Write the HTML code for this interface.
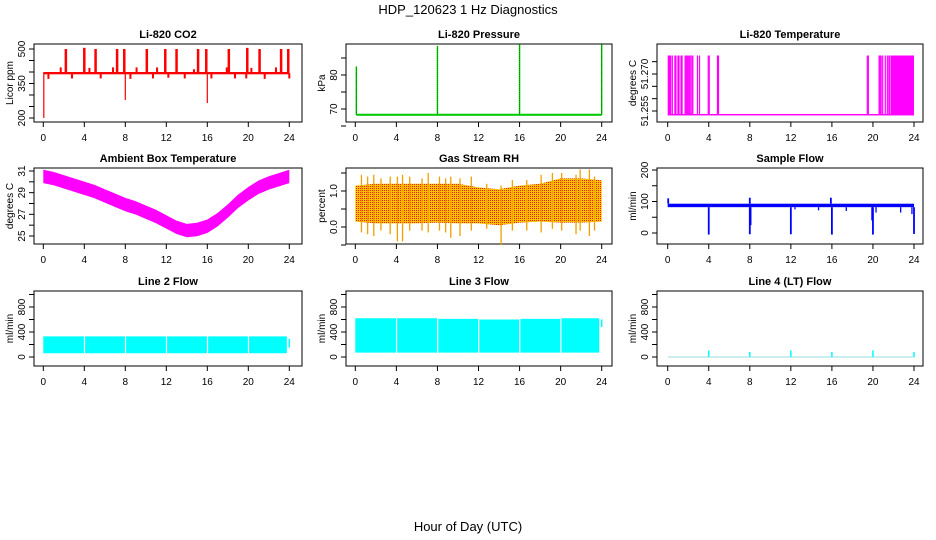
<!DOCTYPE html>
<html><head><meta charset="utf-8"><style>
body{margin:0;background:#fff;}
svg{display:block;font-family:"Liberation Sans",sans-serif;}
</style></head><body>
<svg id="c" width="936" height="540" viewBox="0 0 936 540">
<defs>
<pattern id="rhpat" width="2" height="2" patternUnits="userSpaceOnUse"><rect width="2" height="2" fill="#ffc000"/><rect width="1" height="1" fill="#e8201a"/></pattern>
</defs>
<text x="468" y="14" text-anchor="middle" font-size="13">HDP_120623  1 Hz Diagnostics</text>
<text x="468" y="531" text-anchor="middle" font-size="13">Hour of Day (UTC)</text>
</svg>
<script>
// ---- data ----
const hourTicks = [0,4,8,12,16,20,24];
const co2Base = 395;
const co2UpHours = [2.2,4,5.1,7.2,7.9,10.1,11.9,13,15.1,15.9,18.1,19.9,21.1,23.2,23.9];
const co2UpValues = [500,505,500,500,500,500,500,500,500,500,500,505,500,500,500];
const co2SmallHours = [1.7,4.5,6.8,9.1,11.1,14.7,17.9,20.3,22.7];
const co2SmallValues = [420,418,420,420,420,412,420,418,420];
const co2DipHours = [0.5,2.8,5.6,8.5,10.7,12.2,13.8,16.4,18.7,19.8,21.6,24];
const co2DipValues = [370,372,372,370,372,375,372,372,372,372,370,372];
const co2BigDipHours = [0.05,8,16];
const co2BigDipValues = [200,278,265];

const presBase = 68.3;
const presSpikeHours = [0.1,8,16,24];
const presSpikeValues = [82.5,88.5,89,89];

const liTempLow = 51.2535;
const liTempHigh = 51.2775;
const liTempLineHours = [0.45,0.7,0.8,1.0,1.1,1.3,1.4,1.7,1.8,1.9,2.0,2.1,2.2,2.35,2.45,2.9,3.1,3.95,4.05,4.85,4.95,19.45,19.55,20.6,20.7,20.8,20.95,21.2,21.4,21.55,21.65];
const liTempFilledRanges = [[0,0.35],[21.75,24]];

const ambHours = [0,1,2,3,4,5,6,7,8,9,10,11,12,13,14,15,16,17,18,19,20,21,22,23,24];
const ambValues = [30.5,30.3,30.0,29.7,29.4,29.1,28.7,28.3,27.9,27.6,27.2,26.8,26.3,25.8,25.5,25.6,25.9,26.5,27.3,28.2,28.9,29.5,29.9,30.2,30.5];
const ambHalfWidth = 0.62;

const rhHours = [0,2,4,6,8,10,12,14,16,18,20,22,24];
const rhLow = [0.15,0.1,0.1,0.1,0.12,0.1,0.1,0.05,0.12,0.15,0.12,0.12,0.15];
const rhHigh = [1.15,1.2,1.2,1.2,1.2,1.2,1.1,1.05,1.15,1.2,1.35,1.35,1.3];
const rhSpikeHours = [0.6,1.2,1.8,2.5,3.4,4.1,4.6,5.3,6.5,7.1,8.2,8.8,9.3,10.2,11.3,12.8,14.2,15.3,16.7,18.1,19.2,20.1,21.5,21.9,22.8,23.3];
const rhSpikeLow = [-0.15,-0.2,-0.25,-0.1,-0.2,-0.4,-0.4,-0.1,-0.1,-0.15,-0.1,-0.15,-0.3,-0.25,-0.1,-0.05,-0.5,-0.1,-0.1,-0.15,-0.05,-0.1,-0.2,-0.1,-0.25,-0.1];
const rhSpikeHigh = [1.45,1.4,1.45,1.35,1.4,1.4,1.45,1.4,1.35,1.5,1.4,1.35,1.4,1.35,1.4,1.2,1.15,1.3,1.3,1.45,1.5,1.5,1.45,1.6,1.6,1.4];

const sfLow = 82, sfHigh = 93;
const sfDipHours = [4,8,12,16,20,24];
const sfDipValues = [-5,-4,-4,-5,-5,-3];
const sfSmallDipHours = [8.1,12.4,14.7,17.4,19.9,20.3,22.7,23.8];
const sfSmallDipValues = [25,75,72,70,40,65,65,60];
const sfUpHours = [0.05,8,15.9];
const sfUpValues = [110,112,112];

const flowGapHours = [4,8,12,16,20];
const line2Low = 60, line2High = 330;
const line3Low = 70;
const line3HighHours = [0,4,8,12,16,20,24];
const line3High = [620,620,610,600,610,620,620];
const line4SpikeHours = [4,8,12,16,20,24];
const line4SpikeValues = [105,80,105,80,105,80];

// ---- rendering ----
const svg = document.getElementById('c');
const NS = 'http://www.w3.org/2000/svg';
function mk(tag, attrs){const e=document.createElementNS(NS,tag);for(const k in attrs)e.setAttribute(k,attrs[k]);svg.appendChild(e);return e;}

const cols = [{l:34,r:302,x0:43.3,x24:289.3},{l:346,r:612,x0:355.3,x24:601.7},{l:657,r:923,x0:667.7,x24:914}];
const rows = [{t:44,b:122},{t:168,b:244},{t:291,b:366}];

function panel(ci, ri, title, ylab, v1, y1, v2, y2, ticks, labels, name){
  const c=cols[ci], r=rows[ri];
  const P={xs:h=>c.x0+h*(c.x24-c.x0)/24, ys:v=>y1+(v-v1)*(y2-y1)/(v2-v1), c, r, name};
  const t=mk('text',{x:(c.l+c.r)/2,y:r.t-6,'text-anchor':'middle','font-size':11,'font-weight':'bold'});
  t.textContent=title;
  
  
  const box=mk('rect',{x:c.l,y:r.t,width:c.r-c.l,height:r.b-r.t,fill:'none',stroke:'#000','stroke-width':1});
  
  
  hourTicks.forEach(h=>{
    const x=P.xs(h);
    const tk=mk('line',{x1:x,x2:x,y1:r.b,y2:r.b+5,stroke:'#000'});
    
    
    const tl=mk('text',{x:x,y:r.b+19,'text-anchor':'middle','font-size':10});
    tl.textContent=h;
    
    
  });
  ticks.forEach(v=>{
    const y=P.ys(v);
    const tk=mk('line',{x1:c.l-5,x2:c.l,y1:y,y2:y,stroke:'#000'});
    
    
  });
  labels.forEach(v=>{
    const y=P.ys(v);
    const tl=mk('text',{x:c.l-9,y:y,'text-anchor':'middle','font-size':10,transform:`rotate(-90 ${c.l-9} ${y})`});
    tl.textContent=v;
    
    
  });
  const yl=mk('text',{x:c.l-21,y:(r.t+r.b)/2,'text-anchor':'middle','font-size':10,transform:`rotate(-90 ${c.l-21} ${(r.t+r.b)/2})`});
  yl.textContent=ylab;
  
  
  return P;
}
function vline(P,h,a,b,color,w,nm){
  const e=mk('line',{x1:P.xs(h),x2:P.xs(h),y1:P.ys(a),y2:P.ys(b),stroke:color,'stroke-width':w||1.5});
  
  
  return e;
}
function band(P,h0,h1,lo,hi,fill,nm){
  const x0=P.xs(h0),x1=P.xs(h1),ya=P.ys(hi),yb=P.ys(lo);
  const e=mk('rect',{x:x0,y:Math.min(ya,yb),width:x1-x0,height:Math.abs(yb-ya),fill:fill});
  
  
  return e;
}

// CO2
let P=panel(0,0,'Li-820 CO2','Licor ppm',200,118,500,49,[200,250,300,350,400,450,500],[200,350,500],'co2');
band(P,0,24,co2Base-5,co2Base+5,'#f00','co2-band');
co2UpHours.forEach((h,i)=>vline(P,h,co2Base,co2UpValues[i],'#f00',2.5,'co2-spike-up'));
co2SmallHours.forEach((h,i)=>vline(P,h,co2Base,co2SmallValues[i],'#f00',2,'co2-spike-small'));
co2DipHours.forEach((h,i)=>vline(P,h,co2Base,co2DipValues[i],'#f00',2,'co2-dip'));
co2BigDipHours.forEach((h,i)=>vline(P,h,co2Base,co2BigDipValues[i],'#f00',1.2,'co2-big-dip'));

// Pressure
P=panel(1,0,'Li-820 Pressure','kPa',70,109,80,75,[65,70,75,80,85],[70,80],'pressure');
band(P,0.1,24,presBase-0.3,presBase+0.3,'#0c0','pressure-baseline');
presSpikeHours.forEach((h,i)=>{vline(P,h,presBase,presSpikeValues[i],'#0d0',1.5,'pressure-spike');vline(P,h,presBase,presSpikeValues[i],'#000',0.5,'pressure-spike-dots').setAttribute('stroke-dasharray','1 1');});

// Li-820 temp
P=panel(2,0,'Li-820 Temperature','degrees C',51.255,111,51.270,74,[51.255,51.26,51.265,51.27,51.275],['51.255','51.270'],'li820-temp');
band(P,0,24,liTempLow-0.0003,liTempLow+0.0003,'#f0f','li820-temp-baseline');
liTempLineHours.forEach(h=>vline(P,h,liTempLow,liTempHigh,'#f0f',1.2,'li820-temp-toggle'));
liTempFilledRanges.forEach(rg=>band(P,rg[0],rg[1],liTempLow,liTempHigh,'#f0f','li820-temp-dense'));

// Ambient
P=panel(0,1,'Ambient Box Temperature','degrees C',25,236,31,171,[25,26,27,28,29,30,31],[25,27,29,31],'ambient-temp');
{let pts=ambHours.map((h,i)=>P.xs(h)+','+P.ys(ambValues[i]+ambHalfWidth));
 let pts2=ambHours.map((h,i)=>P.xs(h)+','+P.ys(ambValues[i]-ambHalfWidth)).reverse();
 const e=mk('polygon',{points:pts.concat(pts2).join(' '),fill:'#f0f'});
 
 }

// RH
P=panel(1,1,'Gas Stream RH','percent',0,227,1,191,[-0.5,0,0.5,1,1.5],['0.0','1.0'],'rh');
{let pts=rhHours.map((h,i)=>P.xs(h)+','+P.ys(rhHigh[i]));
 let pts2=rhHours.map((h,i)=>P.xs(h)+','+P.ys(rhLow[i])).reverse();
 const e=mk('polygon',{points:pts.concat(pts2).join(' '),fill:'url(#rhpat)'});
 
 }
rhSpikeHours.forEach((h,i)=>vline(P,h,rhSpikeLow[i],rhSpikeHigh[i],'#f0a000',1.3,'rh-spike'));

// Sample flow
P=panel(2,1,'Sample Flow','ml/min',0,233,200,170,[0,50,100,150,200],[0,100,200],'sample-flow');
band(P,0,24,sfLow,sfHigh,'#00f','sample-flow-band');
sfDipHours.forEach((h,i)=>vline(P,h,sfLow,sfDipValues[i],'#00f',1.8,'sample-flow-dip'));
sfSmallDipHours.forEach((h,i)=>vline(P,h,sfLow,sfSmallDipValues[i],'#00f',1.3,'sample-flow-small-dip'));
sfUpHours.forEach((h,i)=>vline(P,h,sfHigh,sfUpValues[i],'#00f',1.8,'sample-flow-spike'));

// Line 2
P=panel(0,2,'Line 2 Flow','ml/min',0,357,800,307,[0,200,400,600,800,1000],[0,400,800],'line2-flow');
{let edges=[0].concat(flowGapHours,[23.8]);
 for(let i=0;i<edges.length-1;i++) band(P,edges[i]+(i?0.08:0),edges[i+1]-0.04,line2Low,line2High,'#0ff','line2-flow-block');
 vline(P,24,150,290,'#0ff',1.5,'line2-flow-end');}

// Line 3
P=panel(1,2,'Line 3 Flow','ml/min',0,357,800,307,[0,200,400,600,800,1000],[0,400,800],'line3-flow');
{let edges=[0].concat(flowGapHours,[23.8]);
 for(let i=0;i<edges.length-1;i++) band(P,edges[i]+(i?0.08:0),edges[i+1]-0.04,line3Low,line3High[i],'#0ff','line3-flow-block');
 vline(P,24,480,600,'#0ff',1.5,'line3-flow-end');}

// Line 4
P=panel(2,2,'Line 4 (LT) Flow','ml/min',0,357,800,307,[0,200,400,600,800,1000],[0,400,800],'line4-flow');
{const e=mk('line',{x1:P.xs(0),x2:P.xs(24),y1:P.ys(0),y2:P.ys(0),stroke:'#9dd','stroke-width':1});
 
 }
line4SpikeHours.forEach((h,i)=>vline(P,h,0,line4SpikeValues[i],'#0ff',1.5,'line4-flow-spike'));
</script>
</body></html>
